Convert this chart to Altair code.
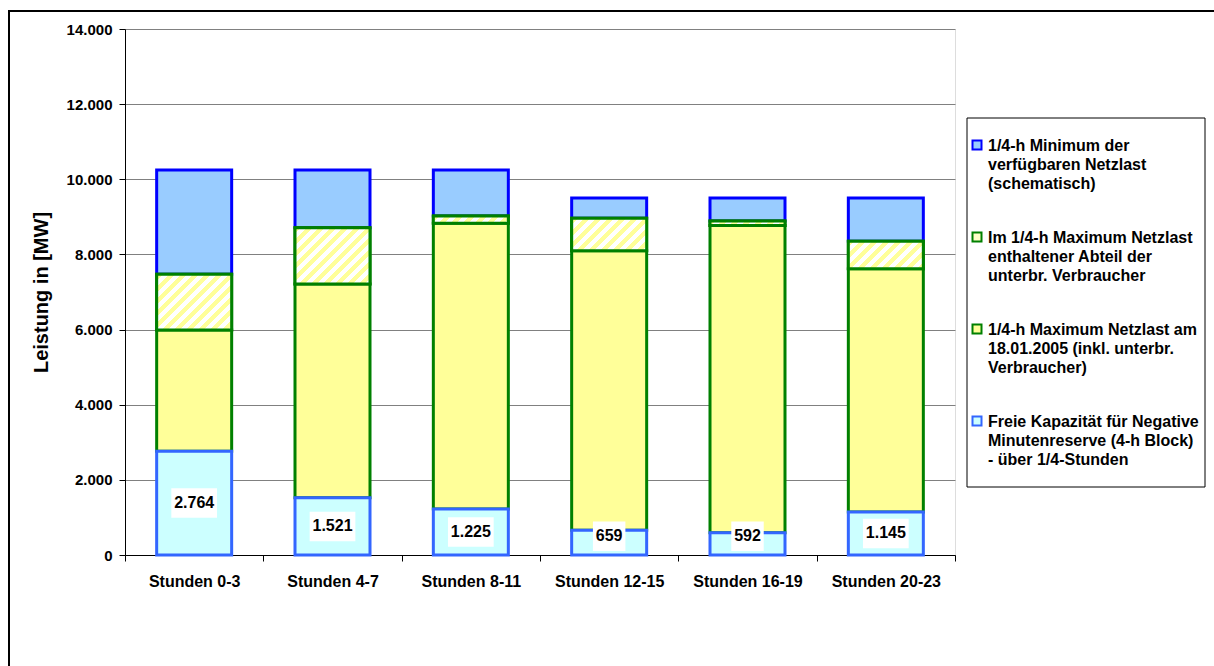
import altair as alt
import pandas as pd

# ---- values per 4-hour block (MW) ----
categories = ["Stunden 0-3", "Stunden 4-7", "Stunden 8-11",
              "Stunden 12-15", "Stunden 16-19", "Stunden 20-23"]
free_capacity = [2764, 1521, 1225, 659, 592, 1145]
max_load = [3226, 5689, 7605, 7441, 8178, 6475]
interruptible = [1480, 1500, 190, 860, 120, 730]
min_available = [2780, 1540, 1230, 540, 610, 1150]

# series names, "|" marks the line breaks used in the legend
S_TOP = "1/4-h Minimum der|verfügbaren Netzlast|(schematisch)"
S_HATCH = "Im 1/4-h Maximum Netzlast|enthaltener Abteil der|unterbr. Verbraucher"
S_LOAD = "1/4-h Maximum Netzlast am|18.01.2005 (inkl. unterbr.|Verbraucher)"
S_FREE = "Freie Kapazität für Negative|Minutenreserve (4-h Block)|- über 1/4-Stunden"
series_order = [S_TOP, S_HATCH, S_LOAD, S_FREE]

fill_colors = ["#99CCFF", "#FFFFC8", "#FFFF99", "#CCFFFF"]
stroke_colors = ["#0000FF", "#008000", "#008000", "#3366FF"]

FONT = "Liberation Sans"
PLOT_W, PLOT_H = 830, 526
Y_MAX = 14000
BAR_W = 75
YELLOW = "#FFFF99"

# ---- stacked segments (top series first so lower borders are drawn last) ----
rows = []
for i, cat in enumerate(categories):
    b1 = free_capacity[i]
    b2 = b1 + max_load[i]
    b3 = b2 + interruptible[i]
    b4 = b3 + min_available[i]
    rows.append({"category": cat, "series": S_TOP, "y0": b3, "y1": b4, "idx": i})
    rows.append({"category": cat, "series": S_HATCH, "y0": b2, "y1": b3, "idx": i})
    rows.append({"category": cat, "series": S_LOAD, "y0": b1, "y1": b2, "idx": i})
    rows.append({"category": cat, "series": S_FREE, "y0": 0, "y1": b1, "idx": i})
segments = pd.DataFrame(rows)

labels = pd.DataFrame({
    "category": categories,
    "free": free_capacity,
    "label": [f"{v:,}".replace(",", ".") for v in free_capacity],
})


def hatch_gradient(value, period=12.0):
    """Diagonal yellow/white stripes at 45 degrees for a bar segment."""
    w = float(BAR_W)
    h = max(value * PLOT_H / Y_MAX, 1.0)
    span = w + h
    d = w * w + h * h
    stops = []
    j = 0
    while j * period < span:
        a = j * period / span
        b = min((j * period + period / 2) / span, 1.0)
        c = min((j + 1) * period / span, 1.0)
        stops += [{"offset": a, "color": YELLOW}, {"offset": b, "color": YELLOW},
                  {"offset": b, "color": "#FFFFFF"}, {"offset": c, "color": "#FFFFFF"}]
        j += 1
    return {"gradient": "linear", "x1": 0, "y1": 0,
            "x2": w * span / d, "y2": h * span / d, "stops": stops}


x_enc = alt.X(
    "category:N", sort=categories,
    scale=alt.Scale(domain=categories, paddingInner=0, paddingOuter=0),
    axis=alt.Axis(title=None, labelAngle=0, labelFont=FONT, labelFontSize=16,
                  labelFontWeight="bold", labelColor="black", domainColor="black",
                  tickColor="black", tickSize=6, tickBand="extent", labelPadding=12,
                  grid=False),
)
y_scale = alt.Scale(domain=[0, Y_MAX], nice=False)
y_enc = alt.Y(
    "y0:Q", scale=y_scale,
    axis=alt.Axis(values=list(range(0, Y_MAX + 1, 2000)),
                  labelExpr="replace(format(datum.value, ','), ',', '.')",
                  labelFont=FONT, labelFontSize=15, labelFontWeight="bold",
                  labelColor="black", labelPadding=7, domainColor="black",
                  tickColor="black", tickSize=6, gridColor="#808080",
                  title="Leistung in [MW]", titleFont=FONT, titleFontSize=20,
                  titleFontWeight="bold", titleColor="black", titleX=-84,
                  titleY=PLOT_H / 2, titleAngle=270, titleAlign="center",
                  titleBaseline="middle"),
)

# square legend symbol sitting level with the first label line
legend_symbol = "M-1,0.55L1,0.55L1,2.55L-1,2.55Z"
legend = alt.Legend(
    title=None, orient="none", legendX=844, legendY=101, padding=0,
    labelExpr="split(datum.label, '|')", labelFont=FONT, labelFontSize=16,
    labelFontWeight="bold", labelColor="black", labelLimit=400, labelOffset=3,
    labelBaseline="top", symbolType=legend_symbol, symbolSize=81, symbolStrokeWidth=2,
    rowPadding=30,
)

one = pd.DataFrame({"k": [0]})

# chart frame and legend box
frame = alt.Chart(one).mark_rect(filled=False, stroke="black", strokeWidth=2).encode(
    x=alt.value(-116), x2=alt.value(1200), y=alt.value(-18), y2=alt.value(700))
legend_box = alt.Chart(one).mark_rect(fill="white", stroke="black", strokeWidth=1).encode(
    x=alt.value(842), x2=alt.value(1080), y=alt.value(89), y2=alt.value(458))

bars = alt.Chart(segments).mark_bar(size=BAR_W, strokeWidth=3).encode(
    x=x_enc,
    y=y_enc,
    y2="y1:Q",
    fill=alt.Fill("series:N", scale=alt.Scale(domain=series_order, range=fill_colors),
                  legend=legend),
    stroke=alt.Stroke("series:N", scale=alt.Scale(domain=series_order, range=stroke_colors),
                      legend=legend),
)

hatch_layers = []
for i, cat in enumerate(categories):
    hatch_layers.append(
        alt.Chart(segments).transform_filter(
            (alt.datum.series == S_HATCH) & (alt.datum.idx == i)
        ).mark_bar(size=BAR_W, strokeWidth=3, stroke="#008000",
                   fill=hatch_gradient(interruptible[i])).encode(
            x=alt.X("category:N", sort=categories),
            y=alt.Y("y0:Q", scale=y_scale),
            y2="y1:Q",
        )
    )

label_base = alt.Chart(labels).transform_calculate(
    pos="max(datum.free / 2, 500)",
    box="length(datum.label) > 3 ? 'M-1.55,-1L1.55,-1L1.55,1L-1.55,1Z' : 'M-1.1,-1L1.1,-1L1.1,1L-1.1,1Z'",
).encode(
    x=alt.X("category:N", sort=categories),
    y=alt.Y("pos:Q", scale=y_scale),
)
label_boxes = label_base.mark_point(filled=True, fill="white", opacity=1, strokeWidth=0).encode(
    shape=alt.Shape("box:N", scale=None),
    size=alt.value(870),
)
label_text = label_base.mark_text(font=FONT, fontSize=16, fontWeight="bold",
                                  color="black", baseline="middle", align="center").encode(
    text="label:N")

chart = alt.layer(frame, legend_box, bars, *hatch_layers, label_boxes, label_text).properties(
    width=PLOT_W, height=PLOT_H,
    autosize=alt.AutoSizeParams(type="none"),
    padding={"left": 125, "top": 29, "right": 1214 - 125 - PLOT_W, "bottom": 666 - 29 - PLOT_H},
).configure_view(stroke="#808080", strokeWidth=1).configure(
    background="white",
    style={"guide-label": {"lineHeight": 19}},
)

chart.save("out.html", embed_options={"renderer": "svg", "actions": False})
